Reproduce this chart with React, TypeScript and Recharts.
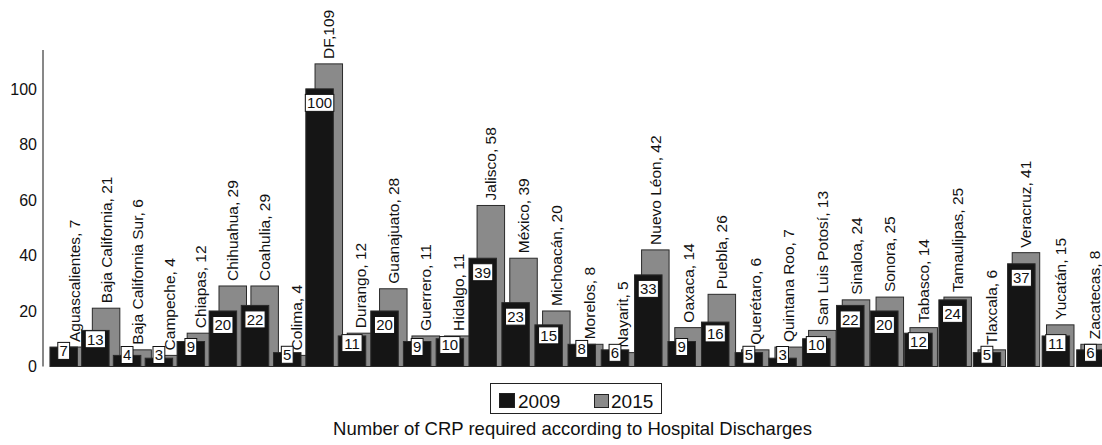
import React from 'react';
import { BarChart, Bar, XAxis, YAxis, Legend } from 'recharts';

const states = [
  'Aguascalientes', 'Baja California', 'Baja California Sur', 'Campeche', 'Chiapas', 'Chihuahua',
  'Coahulia', 'Colima', 'DF', 'Durango', 'Guanajuato', 'Guerrero', 'Hidalgo', 'Jalisco', 'México',
  'Michoacán', 'Morelos', 'Nayarit', 'Nuevo Léon', 'Oaxaca', 'Puebla', 'Querétaro', 'Quintana Roo',
  'San Luis Potosí', 'Sinaloa', 'Sonora', 'Tabasco', 'Tamaulipas', 'Tlaxcala', 'Veracruz', 'Yucatán',
  'Zacatecas',
];
const values2009 = [7, 13, 4, 3, 9, 20, 22, 5, 100, 11, 20, 9, 10, 39, 23, 15, 8, 6, 33, 9, 16, 5, 3, 10, 22, 20, 12, 24, 5, 37, 11, 6];
const values2015 = [7, 21, 6, 4, 12, 29, 29, 4, 109, 12, 28, 11, 11, 58, 39, 20, 8, 5, 42, 14, 26, 6, 7, 13, 24, 25, 14, 25, 6, 41, 15, 8];
const yTicks = [0, 20, 40, 60, 80, 100];
const seriesNames = ['2009', '2015'];
const TITLE = 'Number of CRP required according to Hospital Discharges';

const data = states.map((s, i) => ({ state: s, y2009: values2009[i], y2015: values2015[i] }));

const FONT = '"Liberation Sans", Arial, Helvetica, sans-serif';
const BLACK = '#151515';
const GRAY = '#8a8a8a';
const EDGE = '#2a2a2a';
const BAR_W = 27.5;

// slight perspective of the original 3-D drawing
function warp(x: number) {
  return x + 0.0045 * (x - 49) + 4.55e-5 * (x - 49) * (x - 1071);
}
function backOffset(x: number) {
  return 11 - (7 * (x - 43)) / 1059;
}

const GrayShape = (p: any) => {
  const { x, y, width, height, index } = p;
  if (x == null || height == null) return null;
  const left = warp(x) + backOffset(x);
  const cx = left + width / 2;
  const name = states[index];
  const v = values2015[index];
  const label = name === 'DF' ? `${name},${v}` : `${name}, ${v}`;
  return (
    <g>
      <rect x={left} y={y} width={width} height={height} fill={GRAY} stroke={EDGE} strokeWidth={1} />
      <text transform={`translate(${cx + 5.5},${y - 5}) rotate(-90)`} fontSize={15.5} fill="#111">
        {label}
      </text>
    </g>
  );
};

const BlackShape = (p: any) => {
  const { x, y, width, height, index } = p;
  if (x == null || height == null) return null;
  const left = warp(x);
  const cx = left + width / 2;
  const txt = String(values2009[index]);
  const bw = txt.length * 8.34 + 3.5;
  const bh = 17;
  let cy = y + Math.min(height * 0.3, 16) - 2;
  cy = Math.min(cy, y + height - 11.5);
  return (
    <g>
      <rect x={left} y={y} width={width} height={height} fill={BLACK} stroke={EDGE} strokeWidth={1} />
      <rect x={cx - bw / 2} y={cy - bh / 2} width={bw} height={bh} fill="#fff" stroke="#111" strokeWidth={1} />
      <text x={cx} y={cy + 5.4} textAnchor="middle" fontSize={15} fill="#111">
        {txt}
      </text>
    </g>
  );
};

const LegendBox = () => (
  <div
    style={{
      width: '100%',
      height: '100%',
      boxSizing: 'border-box',
      border: '1px solid #222',
      position: 'relative',
      fontSize: 19,
      lineHeight: '19px',
      color: '#111',
      fontFamily: FONT,
    }}
  >
    <div style={{ position: 'absolute', left: 8, top: 9, width: 16, height: 15, boxSizing: 'border-box', background: BLACK, border: '1px solid #222' }} />
    <span style={{ position: 'absolute', left: 27, top: 8 }}>{seriesNames[0]}</span>
    <div style={{ position: 'absolute', left: 103, top: 10, width: 15, height: 14, boxSizing: 'border-box', background: GRAY, border: '1px solid #222' }} />
    <span style={{ position: 'absolute', left: 120, top: 8 }}>{seriesNames[1]}</span>
  </div>
);

export default function App() {
  return (
    <div style={{ position: 'absolute', left: 0, top: 0, width: 1102, height: 445, fontFamily: FONT, background: '#fff', overflow: 'hidden' }}>
      <BarChart width={1102} height={445} data={data} margin={{ top: 50, right: 0, bottom: 78.5, left: 0 }} barCategoryGap={0}>
        <XAxis
          xAxisId="front"
          dataKey="state"
          tick={false}
          tickLine={false}
          height={0}
          padding={{ left: 4, right: 0 }}
          axisLine={{ stroke: '#9a9a9a' }}
        />
        <XAxis xAxisId="back" dataKey="state" hide padding={{ left: 4, right: 0 }} />
        <YAxis
          width={43}
          domain={[0, 114]}
          ticks={yTicks}
          tickLine={false}
          tickSize={4}
          tickMargin={2}
          axisLine={{ stroke: '#111' }}
          tick={{ fontSize: 16, fill: '#111' }}
        />
        <Bar xAxisId="back" dataKey="y2015" name={seriesNames[1]} barSize={BAR_W} shape={GrayShape} isAnimationActive={false} />
        <Bar xAxisId="front" dataKey="y2009" name={seriesNames[0]} barSize={BAR_W} shape={BlackShape} isAnimationActive={false} />
        <Legend
          layout="horizontal"
          verticalAlign="middle"
          align="center"
          content={LegendBox}
          wrapperStyle={{ position: 'absolute', left: 490, top: 383, width: 172, height: 31, margin: 0 }}
        />
      </BarChart>
      <div
        style={{
          position: 'absolute',
          left: 43,
          top: 419.5,
          width: 1059,
          textAlign: 'center',
          fontSize: 18.5,
          lineHeight: '18.5px',
          color: '#111',
          whiteSpace: 'nowrap',
        }}
      >
        {TITLE}
      </div>
    </div>
  );
}
